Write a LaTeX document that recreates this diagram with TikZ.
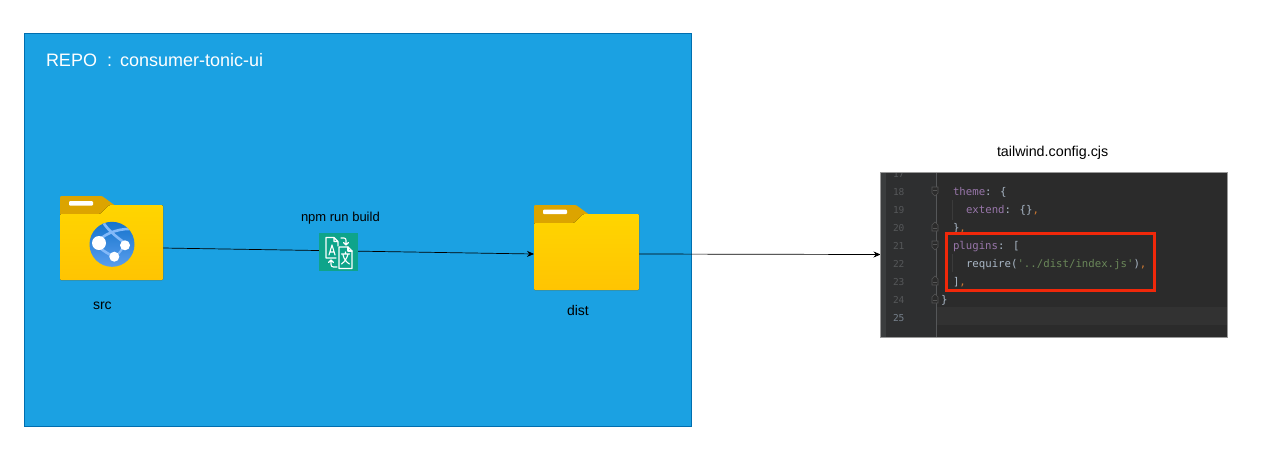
\documentclass[tikz,border=0pt]{standalone}
\usepackage{fontspec}
\setmainfont{Liberation Sans}
\newfontfamily\codefont{DejaVu Sans Mono}
\usetikzlibrary{arrows.meta}
\definecolor{repoblue}{HTML}{1BA1E2}
\definecolor{repoedge}{HTML}{006EAF}
\definecolor{foldertop}{HTML}{FFD500}
\definecolor{folderbot}{HTML}{FFC402}
\definecolor{foldertab}{HTML}{DCA400}
\definecolor{iconteal}{HTML}{0EA48A}
\definecolor{codebg}{HTML}{2B2B2B}
\definecolor{gutterbg}{HTML}{2E2F30}
\definecolor{curline}{HTML}{323232}
\definecolor{numgray}{HTML}{555759}
\definecolor{keypurple}{HTML}{9876AA}
\definecolor{strgreen}{HTML}{6A8759}
\definecolor{plaincode}{HTML}{A9B7C6}
\definecolor{commaorange}{HTML}{CC7832}
\definecolor{foldgray}{HTML}{555555}
\definecolor{globedark}{HTML}{1473CC}
\definecolor{globepale}{HTML}{5C9FEE}
\definecolor{globelight}{HTML}{83B9F9}
\tikzset{
  x=1pt,y=-1pt,
  boxnode/.style={inner sep=0pt,outer sep=0pt,draw=none,rectangle},
  lbl/.style={inner sep=0pt,outer sep=0pt,text=black,font=\fontsize{14}{16}\selectfont},
  whitelbl/.style={inner sep=0pt,outer sep=0pt,text=white,font=\fontsize{18}{20}\selectfont},
  flow/.style={draw=black,line width=0.7pt,-{Stealth[length=7pt,width=6pt]}},
  codetxt/.style={inner sep=0pt,outer sep=0pt,anchor=base west,font=\codefont\fontsize{10.7}{12}\selectfont,text=plaincode},
  lineno/.style={inner sep=0pt,outer sep=0pt,anchor=base west,font=\codefont\fontsize{9.5}{12}\selectfont,text=numgray},
  foldbody/.style={top color=foldertop,bottom color=folderbot,draw=none,rounded corners=1pt},
  tabshape/.style={fill=foldertab,draw=none,rounded corners=1pt},
  iconline/.style={draw=white,line width=1.1pt,line join=round,line cap=round},
  foldmark/.style={draw=foldgray,line width=0.6pt,fill=codebg},
}
\begin{document}
\begin{tikzpicture}
\useasboundingbox (0,0) rectangle (1261,467);
\fill[white] (0,0) rectangle (1261,467);

% repo container
\node[boxnode,draw=repoedge,fill=repoblue,line width=0.7pt,minimum width=667pt,minimum height=393pt] (repo) at (357.5,230) {};
\node[whitelbl,anchor=base west] (repotitle) at (46,66) {REPO\ \ :\hspace{8pt}consumer-tonic-ui};

% anchors for folders, icon and code panel
\node[boxnode,minimum width=103pt,minimum height=86pt] (srcf) at (111.5,248) {};
\node[boxnode,minimum width=105pt,minimum height=85pt] (distf) at (586.5,254) {};
\node[boxnode,minimum width=347pt,minimum height=165pt] (codep) at (1054,254.5) {};

% connectors
\draw[flow] (srcf.east) -- (distf.west);
\draw[flow] (distf.east) -- (codep.west);

% src folder
\fill[tabshape] (60,196) -- (102,196) -- (115,205.5) -- (115,216) -- (60,216) -- cycle;
\fill[foldbody] (60,214) -- (100,214) -- (109.5,205) -- (163,205) -- (163,280) -- (60,280) -- cycle;
\fill[white,rounded corners=1pt] (69,201) rectangle (93,205.5);
% globe
\begin{scope}
\clip (112,244.3) circle[radius=22.5];
\shade[top color=globedark,bottom color=globepale] (88,221) rectangle (136,268);
\draw[globelight,line width=2.6pt] (99,240) .. controls (108,232) and (120,228) .. (136,229);
\draw[globelight,line width=2.6pt] (103,222) .. controls (107,229) and (115,236) .. (125,243);
\draw[globelight,line width=2.6pt] (100,248) .. controls (105,252) and (110,255) .. (115,257);
\draw[globelight,line width=2pt] (115,257) .. controls (119,254) and (122,249) .. (125,245);
\end{scope}
\fill[white] (99,243) circle[radius=7];
\fill[white] (125,245.3) circle[radius=5];
\fill[white] (114.3,256.7) circle[radius=5];

% dist folder
\fill[tabshape] (534,205) -- (576,205) -- (589,214.5) -- (589,225) -- (534,225) -- cycle;
\fill[foldbody] (534,223) -- (574,223) -- (583.5,214) -- (639,214) -- (639,290) -- (534,290) -- cycle;
\fill[white,rounded corners=1pt] (543,209.5) rectangle (567,214);

% labels
\node[lbl,anchor=base west] (srclbl) at (93,309) {src};
\node[lbl,anchor=base west] (distlbl) at (567,315) {dist};
\node[lbl,anchor=base west,font=\fontsize{13}{15}\selectfont] (npmlbl) at (301,221) {npm run build};
\node[lbl,anchor=base west,font=\fontsize{14.3}{16}\selectfont] (cfglbl) at (997,156) {tailwind.config.cjs};

% translator icon
\node[boxnode,fill=iconteal,minimum width=39pt,minimum height=38pt] (xlate) at (338.5,252) {};
\draw[iconline] (336,258) -- (326,258) -- (326,237.5) -- (334,237.5) -- (338,241.5) -- (338,246) (334,237.5) -- (334,241.5) -- (338,241.5);
\draw[iconline] (339,247) -- (339,268.5) -- (352,268.5) -- (352,251) -- (348,247) -- cycle;
\draw[iconline] (348,247) -- (348,251) -- (352,251);
\draw[iconline] (329,255) -- (332,245) -- (335,255) (330,252) -- (334,252);
\draw[iconline] (341.5,254) -- (349.5,254) (345.5,252) -- (345.5,254) (348,254) .. controls (347,258) and (345,261.5) .. (341.5,264) (343,255) .. controls (344,259) and (346.5,262.5) .. (349.5,264);
\draw[iconline] (341,238) -- (344,238) .. controls (345.5,238) and (346,239) .. (346,240.5) -- (346,245) (343.5,242.5) -- (346,245) -- (348.5,242.5);
\draw[iconline] (337,267) -- (333.5,267) .. controls (332,267) and (331,266) .. (331,264.5) -- (331,260) (328.5,262.5) -- (331,260) -- (333.5,262.5);

% code screenshot
\begin{scope}
\clip (880,172) rectangle (1228,337);
\fill[codebg] (880,172) rectangle (1228,337);
\fill[gutterbg] (880,172) rectangle (936,337);
\fill[numgray!70!black] (881,172) rectangle (886,337);
\fill[curline] (936,307) rectangle (1228,325);
\draw[numgray,line width=0.6pt] (936,172) -- (936,337);
\node[lineno] at (893,177) {17};
\node[lineno] at (893,195) {18};
\node[lineno] at (893,213) {19};
\node[lineno] at (893,231) {20};
\node[lineno] at (893,249) {21};
\node[lineno] at (893,267) {22};
\node[lineno] at (893,285) {23};
\node[lineno] at (893,303) {24};
\node[lineno,text=plaincode!70!black] at (893,321) {25};
\end{scope}
\foreach \yy in {191,245}{
  \draw[foldmark] (932,\yy-4) -- (938,\yy-4) -- (938,\yy+2) -- (935,\yy+5) -- (932,\yy+2) -- cycle;
  \draw[foldgray,line width=0.5pt] (933,\yy-1) -- (937,\yy-1);
}
\foreach \yy in {227,281,299}{
  \draw[foldmark] (932,\yy+4) -- (938,\yy+4) -- (938,\yy-2) -- (935,\yy-5) -- (932,\yy-2) -- cycle;
  \draw[foldgray,line width=0.5pt] (933,\yy+1) -- (937,\yy+1);
}
\draw[foldgray!70!black,line width=0.5pt] (952,200) -- (952,220) (952,254) -- (952,272);
\node[codetxt] at (953,195) {\textcolor{keypurple}{theme}: \{};
\node[codetxt] at (966,213) {\textcolor{keypurple}{extend}: \{\}\textcolor{commaorange}{,}};
\node[codetxt] at (953,231) {\}\textcolor{commaorange}{,}};
\node[codetxt] at (953,249) {\textcolor{keypurple}{plugins}: [};
\node[codetxt] at (966,267) {require(\textcolor{strgreen}{'../dist/index.js'})\textcolor{commaorange}{,}};
\node[codetxt] at (953,285) {]\textcolor{commaorange}{,}};
\node[codetxt] at (941,303) {\}};
\draw[black!40,line width=0.8pt] (codep.north west) rectangle (codep.south east);
\node[boxnode,draw={rgb,255:red,240;green,40;blue,10},line width=2.2pt,minimum width=208pt,minimum height=57pt] (hilite) at (1050.5,262) {};
\end{tikzpicture}
\end{document}
